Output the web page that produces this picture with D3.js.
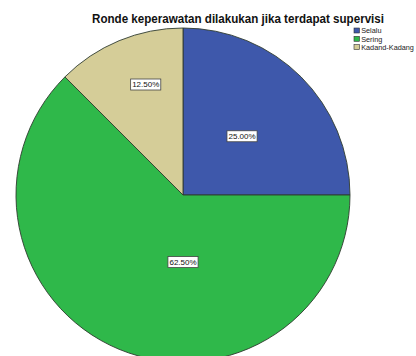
<!DOCTYPE html>
<html>
<head>
<meta charset="utf-8">
<script src="https://cdn.jsdelivr.net/npm/d3@7"></script>
<style>
  html, body { margin: 0; padding: 0; background: #fff; overflow: hidden; }
  svg { display: block; }
</style>
</head>
<body>
<script>
// Data
const categories = ["Selalu", "Sering", "Kadand-Kadang"];
const percentages = [25.0, 62.5, 12.5];
const sliceColors = ["#3e58ab", "#2fb84a", "#d5cd98"];
const chartTitle = "Ronde keperawatan dilakukan jika terdapat supervisi";

// Layout
const W = 416, H = 356;
const cx = 183, cy = 195, R = 167;
// label placement per slice: distance as fraction of radius, angle in degrees clockwise from 12 o'clock
const labelPlacement = [
  { f: 0.50, a: 45 },
  { f: 0.40, a: 180 },
  { f: 0.70, a: -18.6 }
];

const svg = d3.select("body").append("svg")
  .attr("width", W).attr("height", H);

svg.append("text")
  .attr("x", 92).attr("y", 23)
  .attr("textLength", 292)
  .attr("lengthAdjust", "spacingAndGlyphs")
  .style("font-family", "Liberation Sans, Arial, sans-serif")
  .style("font-size", "12.5px")
  .style("font-weight", "bold")
  .style("fill", "#111")
  .text(chartTitle);

const pie = d3.pie().sort(null).value(d => d)(percentages);
const arc = d3.arc().innerRadius(0).outerRadius(R);

const g = svg.append("g").attr("transform", `translate(${cx},${cy})`);
g.selectAll("path.slice")
  .data(pie)
  .join("path")
  .attr("class", "slice")
  .attr("d", arc)
  .attr("fill", (d, i) => sliceColors[i])
  .attr("stroke", "#2f3b2f")
  .attr("stroke-width", 0.9);

// value labels in boxed tags
const labels = g.selectAll("g.lab")
  .data(pie)
  .join("g")
  .attr("class", "lab")
  .attr("transform", (d, i) => {
    const p = labelPlacement[i];
    const ang = p.a * Math.PI / 180;
    return `translate(${p.f * R * Math.sin(ang)},${-p.f * R * Math.cos(ang)})`;
  });

labels.each(function(d, i) {
  const gl = d3.select(this);
  const t = gl.append("text")
    .attr("text-anchor", "middle")
    .attr("dy", "0.35em")
    .style("font-family", "Liberation Sans, Arial, sans-serif")
    .style("font-size", "8px")
    .style("fill", "#111")
    .text(d3.format(".2f")(percentages[i]) + "%");
  const bb = t.node().getBBox();
  gl.insert("rect", "text")
    .attr("x", bb.x - 1.5).attr("y", bb.y - 1)
    .attr("width", bb.width + 3).attr("height", bb.height + 2)
    .attr("fill", "#fff")
    .attr("stroke", "#444")
    .attr("stroke-width", 0.8);
});

// Legend
const legend = svg.append("g").attr("transform", "translate(354,28)");
const rows = legend.selectAll("g.row")
  .data(categories)
  .join("g")
  .attr("class", "row")
  .attr("transform", (d, i) => `translate(0,${i * 8.3})`);
rows.append("rect")
  .attr("x", 0).attr("y", 0)
  .attr("width", 5.5).attr("height", 5)
  .attr("fill", (d, i) => sliceColors[i])
  .attr("stroke", "#333")
  .attr("stroke-width", 0.6);
rows.append("text")
  .attr("x", 7.2).attr("y", 2.7)
  .attr("dy", "0.35em")
  .style("font-family", "Liberation Sans, Arial, sans-serif")
  .style("font-size", "7.3px")
  .style("fill", "#222")
  .text(d => d);
</script>
</body>
</html>
